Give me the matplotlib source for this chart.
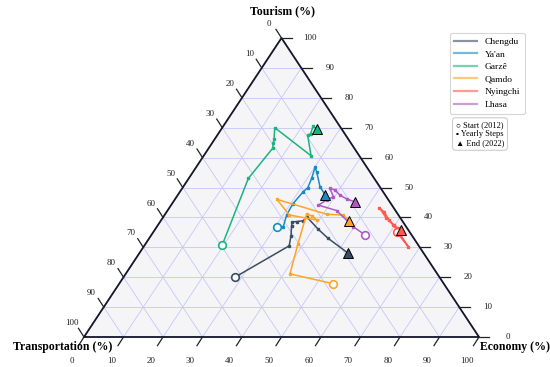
import numpy as np
import matplotlib
matplotlib.use('Agg')
import matplotlib.pyplot as plt

plt.rcParams['font.family'] = ['Liberation Serif', 'DejaVu Serif']

# yearly shares 2012-2022, (transportation, economy, tourism) in %
cities = ['Chengdu', "Ya'an", 'Garzê', 'Qamdo', 'Nyingchi', 'Lhasa']
colors = ['#3b4d61', '#1a8ac6', '#1cb47e', '#ffa526', '#ff5a50', '#b258c6']

chengdu_t = [51.7, 32.8, 30.7, 28.9, 28.1, 26.8, 25.0, 23.5, 22.7, 21.7, 19.1]
chengdu_e = [28.3, 36.7, 35.5, 34.0, 33.4, 34.6, 36.1, 36.3, 41.2, 45.3, 52.9]
chengdu_r = [20.1, 30.5, 33.8, 37.1, 38.5, 38.6, 38.9, 40.2, 36.1, 33.0, 28.0]

yaan_t = [32.8, 31.1, 28.3, 24.9, 20.2, 18.4, 15.8, 13.1, 13.5, 15.1, 15.2]
yaan_e = [30.3, 32.0, 30.9, 30.6, 31.2, 31.7, 31.1, 30.1, 31.3, 34.6, 37.3]
yaan_r = [36.9, 36.9, 40.8, 44.5, 48.6, 49.9, 53.1, 56.8, 55.3, 50.3, 47.5]

garze_t = [49.6, 31.9, 20.7, 19.6, 18.8, 16.7, 12.2, 9.6, 8.7, 6.6, 6.4]
garze_e = [19.6, 15.1, 16.2, 15.5, 15.0, 13.3, 27.2, 22.8, 23.4, 22.7, 24.2]
garze_r = [30.8, 53.1, 63.1, 64.9, 66.2, 70.0, 60.6, 67.6, 67.9, 70.7, 69.5]

qamdo_t = [28.0, 37.3, 30.3, 23.1, 22.0, 21.5, 27.6, 28.2, 18.0, 14.0, 13.4]
qamdo_e = [54.1, 41.6, 38.6, 35.8, 37.5, 39.3, 31.6, 25.8, 40.9, 45.2, 47.7]
qamdo_r = [17.8, 21.1, 31.1, 41.1, 40.5, 39.1, 40.8, 46.1, 41.0, 40.8, 38.9]

nyingchi_t = [3.3, 2.8, 2.8, 3.0, 3.6, 3.6, 3.1, 3.2, 2.8, 2.3, 1.9]
nyingchi_e = [61.7, 67.0, 62.8, 59.5, 56.6, 53.1, 55.1, 57.6, 59.8, 61.3, 62.4]
nyingchi_r = [35.0, 30.2, 34.5, 37.5, 39.8, 43.2, 41.8, 39.1, 37.5, 36.5, 35.7]

lhasa_t = [11.8, 13.4, 14.9, 18.6, 15.7, 13.4, 12.9, 11.9, 11.5, 10.4, 8.9]
lhasa_e = [54.0, 49.7, 42.8, 37.3, 38.5, 39.7, 37.4, 39.0, 41.1, 43.5, 45.9]
lhasa_r = [34.2, 36.9, 42.3, 44.1, 45.8, 46.9, 49.7, 49.2, 47.5, 46.2, 45.3]

series = [
    (chengdu_t, chengdu_e, chengdu_r),
    (yaan_t, yaan_e, yaan_r),
    (garze_t, garze_e, garze_r),
    (qamdo_t, qamdo_e, qamdo_r),
    (nyingchi_t, nyingchi_e, nyingchi_r),
    (lhasa_t, lhasa_e, lhasa_r),
]

ticks = list(range(0, 101, 10))
H = np.sqrt(3) / 2


def to_xy(t, e, r):
    t, e, r = np.asarray(t, float), np.asarray(e, float), np.asarray(r, float)
    s = t + e + r
    e, r = 100 * e / s, 100 * r / s
    return e + r / 2, r * H


fig = plt.figure(figsize=(5.5, 3.67), dpi=100)
ax = fig.add_axes([84 / 550, 30 / 367, 395 / 550, 299 / 367])
ax.set_xlim(0, 100)
ax.set_ylim(0, 100 * H)
ax.axis('off')

# triangle background
corners_x = [0, 100, 50, 0]
corners_y = [0, 0, 100 * H, 0]
ax.fill(corners_x, corners_y, color='#f5f5f7', zorder=0)

# grid
for k in ticks[1:-1]:
    gc = dict(color='#c6c6fa', lw=0.6, zorder=1)
    # constant tourism
    x, y = to_xy([100 - k, 0], [0, 100 - k], [k, k])
    ax.plot(x, y, **gc)
    # constant economy
    x, y = to_xy([100 - k, 0], [k, k], [0, 100 - k])
    ax.plot(x, y, **gc)
    # constant transportation
    x, y = to_xy([k, k], [100 - k, 0], [0, 100 - k])
    ax.plot(x, y, **gc)

ax.plot(corners_x, corners_y, color='#14142b', lw=1.3, zorder=5, clip_on=False)

# ticks and labels
tk = dict(color='#222222', lw=0.9, clip_on=False, zorder=5)
lab = dict(fontsize=6.5, color='#222222', ha='center', va='center')
for k in ticks:
    # economy (bottom)
    x0, y0 = to_xy(100 - k, k, 0)
    ax.plot([x0, x0 - 1.4], [y0, y0 - 2.5], **tk)
    ax.text(x0 - 3.1, y0 - 7.0, str(k), **lab)
    # tourism (right)
    x0, y0 = to_xy(0, 100 - k, k)
    ax.plot([x0, x0 + 2.6], [y0, y0], **tk)
    ax.text(x0 + 7.2, y0, str(k), **lab)
    # transportation (left)
    x0, y0 = to_xy(k, 0, 100 - k)
    ax.plot([x0, x0 - 1.4], [y0, y0 + 2.5], **tk)
    ax.text(x0 - 3.1, y0 + 4.0, str(k), **lab)

title = dict(fontsize=8.5, fontweight='bold', ha='center', va='center')
fig.text(282 / 550, 1 - 11 / 367, 'Tourism (%)', **title)
fig.text(63 / 550, 1 - 347 / 367, 'Transportation (%)', **title)
fig.text(515 / 550, 1 - 347 / 367, 'Economy (%)', **title)

# trajectories
handles = []
for name, c, (t, e, r) in zip(cities, colors, series):
    x, y = to_xy(t, e, r)
    ax.plot(x, y, color=c, lw=1.1, marker='s', ms=1.6, zorder=6)
    ax.plot(x[0], y[0], 'o', ms=5.5, mfc='white', mec=c, mew=1.2, zorder=7)
    ax.plot(x[-1], y[-1], '^', ms=6.5, mfc=c, mec='black', mew=0.7, zorder=8)
    h, = ax.plot([], [], color=c, lw=1.6, alpha=0.6, label=name)
    handles.append(h)

leg = fig.legend(handles=handles, loc='upper left', bbox_to_anchor=(445 / 550, 1 - 28 / 367),
                 fontsize=6.8, frameon=True, fancybox=True, handlelength=2.4,
                 borderpad=0.5, labelspacing=0.42, handletextpad=0.8)
leg.get_frame().set_edgecolor('#cccccc')
leg.get_frame().set_linewidth(0.8)

fig.text(480 / 550, 1 - 134 / 367, '○ Start (2012)\n▪ Yearly Steps\n▲ End (2022)',
         fontsize=6, ha='center', va='center', linespacing=1.15,
         bbox=dict(boxstyle='round,pad=0.4', fc='white', ec='#cccccc', lw=0.8))

fig.savefig('out.png', dpi=100)
